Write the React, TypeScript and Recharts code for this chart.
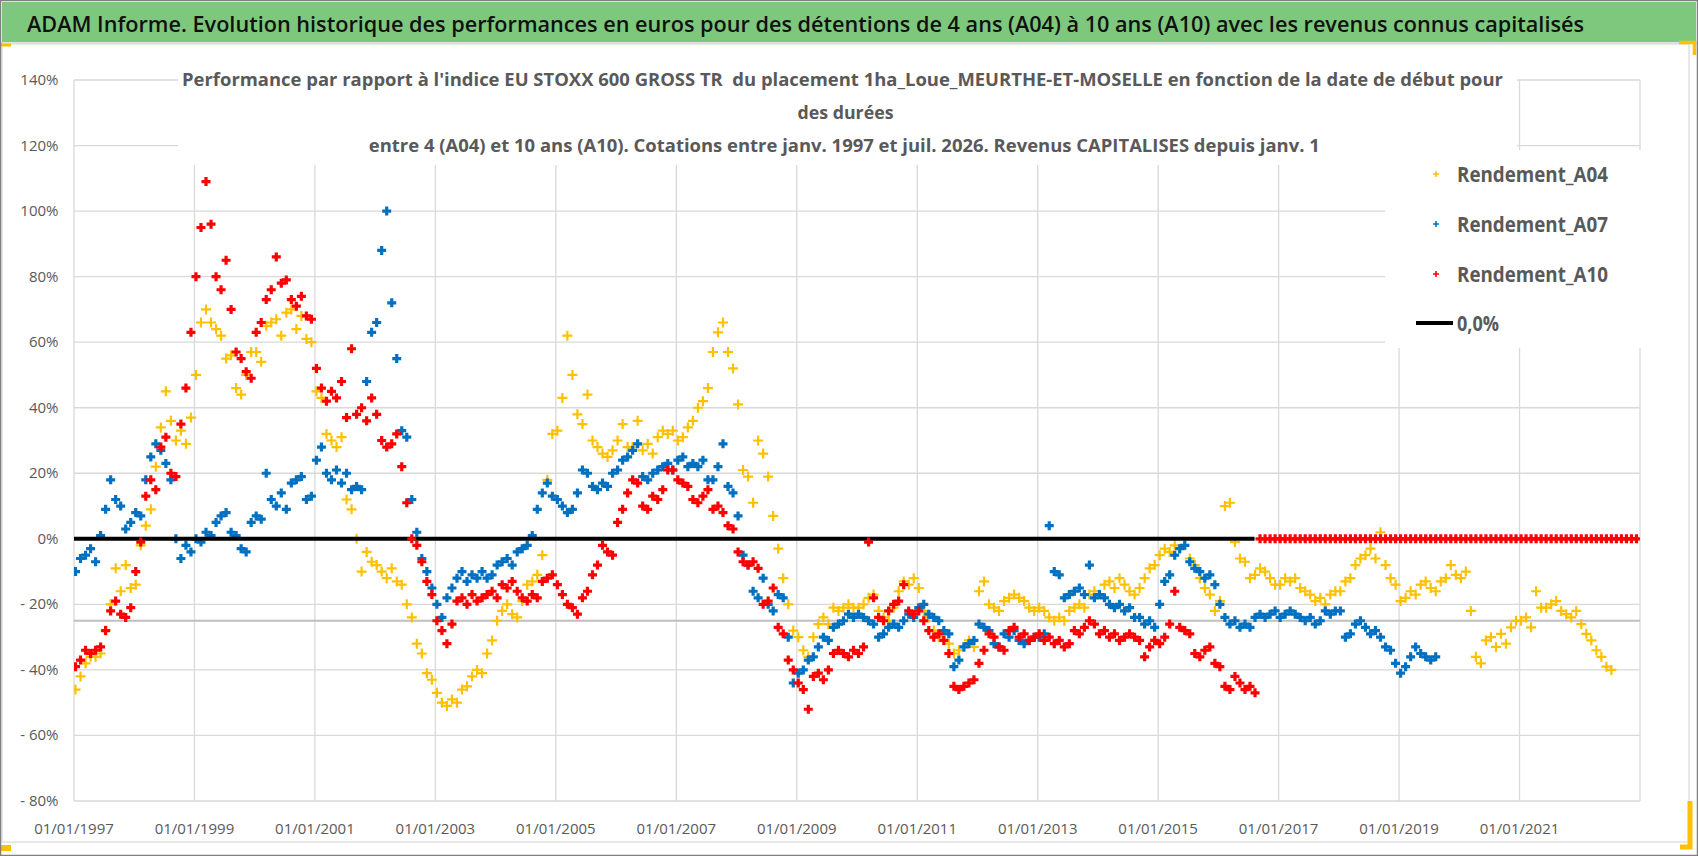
import React from "react";
import { ScatterChart, Scatter, XAxis, YAxis, CartesianGrid, Legend, ReferenceLine } from "recharts";

const W = 1698;
const H = 856;
const FONT = "'Open Sans', 'Noto Sans', sans-serif";

// monthly readings, first value = January of the start year
const A04_START = 1997;
const A04 = [
  -46, -42, -38, -36, -36, -35, -28, -20, -9, -16, -8, -15,
  -14, -2, 4, 9, 22, 34, 45, 36, 30, 33, 29, 37,
  50, 66, 70, 66, 64, 62, 55, 56, 46, 44, 50, 57,
  57, 54, 65, 66, 67, 62, 69, 70, 64, 68, 61, 60,
  45, 43, 32, 30, 28, 31, 12, 9, 0, -10, -4, -7,
  -8, -10, -12, -9, -13, -14, -20, -24, -32, -35, -41, -43,
  -47, -50, -51, -49, -50, -46, -45, -42, -40, -41, -35, -31,
  -25, -22, -20, -23, -24, -19, -14, -13, -11, -5, 18, 32,
  33, 43, 62, 50, 38, 35, 44, 30, 28, 26, 25, 27,
  30, 35, 28, 28, 36, 27, 29, 26, 31, 33, 32, 33,
  30, 31, 34, 36, 40, 42, 46, 57, 63, 66, 57, 52,
  41, 21, 19, 11, 30, 26, 19, 7, -3, -12, -20, -28,
  -30, -34, -36, -30, -26, -24, -26, -21, -22, -21, -20, -21,
  -21, -20, -18, -17, -22, -24, -25, -21, -16, -13, -14, -12,
  -15, -22, -24, -28, -30, -29, -32, -35, -34, -33, -31, -33,
  -16, -13, -20, -21, -22, -19, -18, -17, -18, -19, -21, -22,
  -21, -22, -24, -25, -24, -25, -22, -21, -20, -21, -17, -16,
  -17, -14, -13, -15, -12, -14, -16, -17, -15, -12, -9, -8,
  -5, -3, -4, -2, -3, -2, -6, -8, -12, -15, -17, -22,
  -19, 10, 11, -1, -6, -7, -12, -11, -9, -10, -12, -14,
  -14, -12, -13, -12, -15, -16, -17, -19, -18, -20, -17, -16,
  -16, -13, -12, -8, -6, -5, -3, -6, 2, -8, -12, -14,
  -19, -18, -16, -17, -14, -13, -15, -16, -13, -12, -8, -11,
  -12, -10, -22, -36, -38, -31, -30, -33, -29, -32, -27, -25,
  -25, -24, -27, -16, -21, -21, -20, -19, -22, -23, -24, -22,
  -26, -29, -31, -34, -36, -39, -40,
];

const A07_START = 1997;
const A07 = [
  -10, -6, -5, -3, -7, 1, 9, 18, 12, 10, 3, 5,
  8, 7, 18, 25, 29, 27, 23, 18, 0, -6, -2, -4,
  0, -1, 2, 1, 5, 7, 8, 2, 1, -3, -4, 5,
  7, 6, 20, 12, 10, 14, 9, 17, 18, 19, 12, 13,
  24, 28, 20, 18, 21, 17, 20, 15, 16, 15, 48, 63,
  66, 88, 100, 72, 55, 33, 31, 12, 2, -6, -10, -15,
  -20, -24, -18, -15, -12, -10, -13, -11, -12, -10, -12, -11,
  -8, -7, -6, -8, -4, -3, -2, 1, 9, 14, 17, 13,
  12, 10, 8, 9, 14, 21, 20, 16, 15, 17, 16, 20,
  21, 24, 25, 27, 29, 19, 18, 20, 21, 22, 23, 21,
  24, 25, 22, 23, 22, 24, 18, 18, 22, 29, 16, 14,
  7, -5, -8, -16, -18, -12, -20, -22, -17, -18, -30, -44,
  -41, -40, -37, -36, -33, -30, -31, -27, -26, -25, -23, -24,
  -23, -24, -25, -26, -30, -29, -27, -26, -27, -25, -23, -24,
  -21, -20, -23, -24, -25, -28, -29, -39, -37, -33, -32, -31,
  -26, -27, -28, -32, -33, -29, -30, -28, -31, -32, -31, -30,
  -30, -29, 4, -10, -11, -18, -17, -16, -15, -17, -8, -18,
  -17, -18, -20, -21, -20, -22, -21, -24, -24, -26, -25, -27,
  -20, -13, -11, -5, -3, -2, -7, -9, -10, -12, -11, -14,
  -20, -24, -26, -25, -27, -26, -27, -24, -23, -24, -23, -22,
  -24, -23, -22, -23, -24, -25, -24, -26, -25, -22, -23, -22,
  -22, -30, -29, -26, -25, -27, -29, -28, -30, -33, -34, -38,
  -41, -39, -36, -33, -35, -36, -37, -36,
];

const A10_START = 1997;
const A10 = [
  -39, -37, -34, -35, -34, -33, -28, -22, -19, -23, -24, -21,
  -10, -1, 13, 18, 15, 28, 31, 20, 19, 35, 46, 63,
  80, 95, 109, 96, 80, 76, 85, 70, 57, 55, 51, 49,
  63, 66, 73, 76, 86, 78, 79, 73, 71, 74, 68, 67,
  52, 46, 42, 45, 43, 48, 37, 58, 38, 40, 36, 43,
  38, 30, 28, 29, 32, 22, 11, 0, -2, -7, -13, -17,
  -25, -28, -32, -26, -19, -18, -20, -17, -19, -18, -17, -16,
  -18, -14, -15, -13, -16, -18, -19, -17, -18, -13, -12, -11,
  -14, -17, -20, -21, -23, -18, -16, -11, -8, -2, -4, -5,
  5, 9, 14, 18, 17, 10, 9, 13, 12, 15, 21, 21,
  18, 17, 16, 12, 11, 13, 15, 9, 10, 8, 4, 3,
  -4, -7, -8, -7, -9, -20, -19, -15, -27, -29, -37, -40,
  -44, -46, -52, -42, -41, -43, -40, -35, -34, -35, -36, -34,
  -35, -33, -1, -18, -24, -25, -22, -20, -19, -14, -22, -23,
  -22, -25, -28, -30, -29, -31, -35, -45, -46, -45, -44, -43,
  -38, -34, -29, -30, -33, -34, -28, -27, -30, -29, -31, -30,
  -29, -31, -30, -32, -31, -33, -32, -28, -29, -27, -25, -26,
  -29, -28, -30, -29, -31, -30, -29, -30, -31, -36, -33, -31,
  -32, -30, -26, -16, -27, -28, -29, -35, -36, -34, -33, -38,
  -39, -45, -46, -42, -44, -46, -45, -47,
  // no A10 value after summer 2016: plotted at 0
  0, 0, 0, 0,
  0, 0, 0, 0, 0, 0, 0, 0, 0, 0, 0, 0,
  0, 0, 0, 0, 0, 0, 0, 0, 0, 0, 0, 0,
  0, 0, 0, 0, 0, 0, 0, 0, 0, 0, 0, 0,
  0, 0, 0, 0, 0, 0, 0, 0, 0, 0, 0, 0,
  0, 0, 0, 0, 0, 0, 0, 0, 0, 0, 0, 0,
  0, 0, 0, 0, 0, 0, 0, 0, 0, 0, 0, 0,
];

const ZERO_LINE_DATES = [1997, 2016.6];
const GREY_LEVEL = -25;
const X_TICKS = [1997, 1999, 2001, 2003, 2005, 2007, 2009, 2011, 2013, 2015, 2017, 2019, 2021];
const Y_TICKS = [-80, -60, -40, -20, 0, 20, 40, 60, 80, 100, 120, 140];

const TITLE =
  "ADAM Informe. Evolution historique des performances en euros pour des détentions de 4 ans (A04) à 10 ans (A10) avec les revenus connus capitalisés";
const SUBTITLE = [
  "Performance par rapport à l'indice EU STOXX 600 GROSS TR  du placement 1ha_Loue_MEURTHE-ET-MOSELLE en fonction de la date de début pour",
  "des durées",
  "entre 4 (A04) et 10 ans (A10). Cotations entre janv. 1997 et juil. 2026. Revenus CAPITALISES depuis janv. 1",
];

const SERIES = [
  { name: "Rendement_A04", color: "#FFC000", start: A04_START, values: A04, arm: 5, sw: 2.2 },
  { name: "Rendement_A07", color: "#0070C0", start: A07_START, values: A07, arm: 4.5, sw: 3.2 },
  { name: "Rendement_A10", color: "#FF0000", start: A10_START, values: A10, arm: 4.5, sw: 3.2 },
];

const toPoints = (start: number, values: number[]) =>
  values.map((v, i) => ({ x: start + (i + 0.3) / 12, y: v }));

const plus = (color: string, arm: number, sw: number) => (props: any) => {
  const { cx, cy } = props;
  if (cx == null || cy == null) return <g />;
  return (
    <path
      d={`M${cx - arm},${cy}H${cx + arm}M${cx},${cy - arm}V${cy + arm}`}
      stroke={color}
      strokeWidth={sw}
      fill="none"
    />
  );
};

const XTick = ({ x, y, payload }: any) => (
  <text x={x} y={y + 33} textAnchor="middle" fontSize={15} fill="#595959" fontFamily={FONT}>
    {`01/01/${payload.value}`}
  </text>
);

const YTick = ({ x, y, payload }: any) => {
  const v = payload.value;
  const label = v < 0 ? `- ${-v}%` : `${v}%`;
  return (
    <text x={x - 15.5} y={y + 5} textAnchor="end" fontSize={15} fill="#595959" fontFamily={FONT} style={{ whiteSpace: "pre" }}>
      {label}
    </text>
  );
};

const renderLegend = () => (
  <svg width={256} height={198} style={{ display: "block", background: "#fff" }}>
    {SERIES.map((s, i) => {
      const cy = 24 + i * 50;
      return (
        <g key={s.name}>
          <path d={`M${48},${cy}H${54}M${51},${cy - 3}V${cy + 3}`} stroke={s.color} strokeWidth={1.6} />
          <text x={72} y={cy + 8} fontSize={22} fontWeight={700} fill="#595959" fontFamily={FONT}
            textLength={151} lengthAdjust="spacingAndGlyphs">
            {s.name}
          </text>
        </g>
      );
    })}
    <line x1={31} y1={173} x2={68} y2={173} stroke="#000" strokeWidth={4} />
    <text x={72} y={181} fontSize={22} fontWeight={700} fill="#595959" fontFamily={FONT}
      textLength={42} lengthAdjust="spacingAndGlyphs">
      0,0%
    </text>
  </svg>
);

export default function App() {
  const zeroLine = ZERO_LINE_DATES.map((x) => ({ x, y: 0 }));
  return (
    <div style={{ position: "absolute", left: 0, top: 0, width: W, height: H, background: "#fff", overflow: "hidden" }}>
      <ScatterChart width={W} height={H} margin={{ top: 80, right: 58, bottom: 15, left: 0 }}>
        <CartesianGrid stroke="#d9d9d9" strokeWidth={1.3} />
        <XAxis
          type="number"
          dataKey="x"
          domain={[1997, 2023]}
          ticks={X_TICKS}
          interval={0}
          height={40}
          axisLine={false}
          tickLine={false}
          tickSize={0}
          tickMargin={0}
          tick={<XTick />}
          allowDataOverflow
        />
        <YAxis
          type="number"
          dataKey="y"
          domain={[-80, 140]}
          ticks={Y_TICKS}
          interval={0}
          width={74}
          axisLine={false}
          tickLine={false}
          tickSize={0}
          tickMargin={0}
          tick={<YTick />}
        />
        <ReferenceLine y={GREY_LEVEL} stroke="#bfbfbf" strokeWidth={2} />
        <Scatter
          name={SERIES[0].name}
          data={toPoints(SERIES[0].start, SERIES[0].values)}
          shape={plus(SERIES[0].color, SERIES[0].arm, SERIES[0].sw)}
          fill={SERIES[0].color}
          isAnimationActive={false}
        />
        <Scatter
          name={SERIES[1].name}
          data={toPoints(SERIES[1].start, SERIES[1].values)}
          shape={plus(SERIES[1].color, SERIES[1].arm, SERIES[1].sw)}
          fill={SERIES[1].color}
          isAnimationActive={false}
        />
        <Scatter
          name="0,0%"
          data={zeroLine}
          line={{ stroke: "#000", strokeWidth: 4 }}
          shape={() => <g />}
          fill="#000"
          legendType="none"
          isAnimationActive={false}
        />
        <Scatter
          name={SERIES[2].name}
          data={toPoints(SERIES[2].start, SERIES[2].values)}
          shape={plus(SERIES[2].color, SERIES[2].arm, SERIES[2].sw)}
          fill={SERIES[2].color}
          isAnimationActive={false}
        />
        <Legend
          layout="vertical"
          align="center"
          verticalAlign="middle"
          content={renderLegend}
          wrapperStyle={{ left: 1385, top: 150, width: 256, height: 198 }}
        />
      </ScatterChart>

      <svg width={W} height={H} style={{ position: "absolute", left: 0, top: 0, pointerEvents: "none" }}>
        <rect x={2} y={2} width={1694} height={40} fill="#7EC87E" />
        <line x1={0} y1={43} x2={W} y2={43} stroke="#d9d9d9" strokeWidth={1.5} />
        <rect x={2} y={44} width={1687} height={798} fill="none" stroke="#d9d9d9" strokeWidth={1.2} />
        <text x={27} y={32} fontSize={22} fontWeight={600} fill="#111" fontFamily={FONT}
          textLength={1557} lengthAdjust="spacingAndGlyphs">
          {TITLE}
        </text>
        <rect x={178} y={62} width={1339} height={103} fill="#fff" />
        {SUBTITLE.map((line, i) => (
          <text
            key={i}
            x={[842.5, 845.5, 844.3][i]}
            y={86 + i * 33}
            textAnchor="middle"
            fontSize={18.5}
            fontWeight={700}
            fill="#595959"
            fontFamily={FONT}
            textLength={[1321, 96, 951][i]}
            lengthAdjust="spacingAndGlyphs"
            style={{ whiteSpace: "pre" }}
          >
            {line}
          </text>
        ))}
        {/* selection handles */}
        <path d="M0,45H11" stroke="#FFC000" strokeWidth={3} />
        <path d="M0,848H11" stroke="#FFC000" strokeWidth={6} />
        <path d="M1679,42.5H1694.5V55" stroke="#FFC000" strokeWidth={3.5} fill="none" />
        <path d="M1690,801V847H1680" stroke="#FFC000" strokeWidth={5} fill="none" />
        <rect x={0.5} y={0.5} width={W - 1} height={H - 1} fill="none" stroke="#7f7f7f" strokeWidth={1.5} />
      </svg>
    </div>
  );
}
